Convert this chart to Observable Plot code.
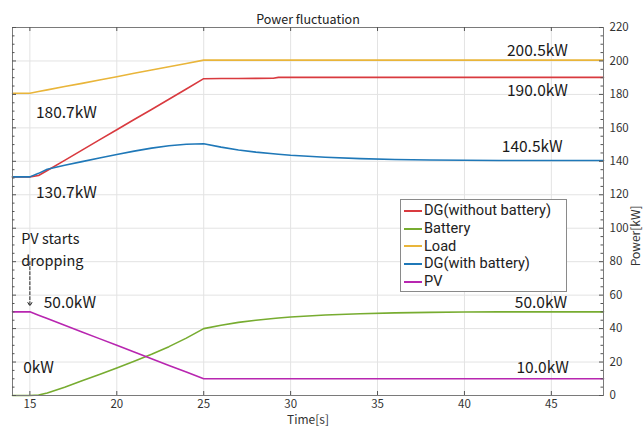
<!DOCTYPE html>
<html>
<head>
<meta charset="utf-8">
<script src="https://cdn.jsdelivr.net/npm/d3@7"></script>
<script src="https://cdn.jsdelivr.net/npm/@observablehq/plot@0.6"></script>
<style>
  html, body { margin: 0; padding: 0; background: #fff; }
  #wrap { position: relative; width: 643px; height: 429px; font-family: "Noto Sans CJK JP", "Noto Sans", sans-serif; }
  #legend { position: absolute; left: 400px; top: 199px; width: 167px; height: 93px; box-sizing: border-box;
            border: 1px solid #8a8a8a; background: #fff; padding: 2px 0 0 3px; font-family: Roboto, "Liberation Sans", sans-serif; }
  .row { display: flex; align-items: center; height: 17.7px; color: #222; white-space: nowrap; }
  .lab { display: inline-block; line-height: 17px; font-size: 14.6px; }
  .sw { width: 18px; height: 2px; margin-right: 2px; }
</style>
</head>
<body>
<div id="wrap"></div>
<script>
// ---- data ----
const time      = [14, 15, 15.5, 16, 17, 18, 19, 20, 21, 22, 23, 24, 25, 26, 27, 28, 29, 29.3, 30, 32, 34, 36, 38, 40, 42, 48];
const load      = [180.7, 180.7, 181.7, 182.7, 184.7, 186.6, 188.6, 190.6, 192.6, 194.6, 196.5, 198.5, 200.5, 200.5, 200.5, 200.5, 200.5, 200.5, 200.5, 200.5, 200.5, 200.5, 200.5, 200.5, 200.5, 200.5];
const dgNoBatt  = [130.7, 130.7, 131.5, 134.5, 140.6, 146.7, 152.8, 158.9, 165.0, 171.0, 177.1, 183.2, 189.4, 189.5, 189.5, 189.6, 189.7, 190.2, 190.2, 190.2, 190.2, 190.2, 190.2, 190.2, 190.2, 190.2];
const dgBatt    = [130.7, 130.7, 132.8, 135.2, 137.7, 139.8, 142.0, 144.1, 146.1, 147.9, 149.3, 150.2, 150.5, 148.5, 146.8, 145.5, 144.5, 144.2, 143.6, 142.4, 141.6, 141.1, 140.8, 140.6, 140.5, 140.5];
const battery   = [0, 0, 0.3, 1.5, 5.0, 8.8, 12.6, 16.5, 20.5, 24.7, 29.2, 34.3, 40.0, 42.0, 43.7, 45.0, 46.0, 46.3, 46.9, 48.1, 48.9, 49.4, 49.7, 49.9, 50.0, 50.0];
const pv        = [50, 50, 48, 46, 42, 38, 34, 30, 26, 22, 18, 14, 10, 10, 10, 10, 10, 10, 10, 10, 10, 10, 10, 10, 10, 10];

const seriesNames  = ["DG(without battery)", "Battery", "Load", "DG(with battery)", "PV"];
const seriesValues = [dgNoBatt, battery, load, dgBatt, pv];
const seriesColors = ["#d93a3f", "#77ac30", "#e9b53a", "#1f78b8", "#b826b0"];

const xTicks = [15, 20, 25, 30, 35, 40, 45];
const yTicks = [0, 20, 40, 60, 80, 100, 120, 140, 160, 180, 200, 220];
const yMinor = d3.range(0, 221, 5).filter(v => v % 20 !== 0);

const labels = [
  {text: "200.5kW", t: 44.2, p: 206},
  {text: "190.0kW", t: 44.2, p: 182},
  {text: "140.5kW", t: 43.9, p: 148.5},
  {text: "50.0kW",  t: 44.4, p: 55.5},
  {text: "10.0kW",  t: 44.5, p: 16.5},
  {text: "180.7kW", t: 17.1, p: 169},
  {text: "130.7kW", t: 17.1, p: 121},
  {text: "50.0kW",  t: 17.3, p: 55.5},
  {text: "0kW",     t: 15.5, p: 16.5}
];
const note = ["PV starts", "dropping"];

// ---- build ----
const rows = [];
seriesNames.forEach((name, i) => time.forEach((t, j) => rows.push({series: name, t, p: seriesValues[i][j]})));

const W = 643, H = 429, mL = 12, mR = 40, mT = 27, mB = 34;
const fw = W - mL - mR, fh = H - mT - mB;
const font = '"Noto Sans CJK JP", "Noto Sans", sans-serif';

const chart = Plot.plot({
  width: W, height: H,
  marginLeft: mL, marginRight: mR, marginTop: mT, marginBottom: mB,
  style: {fontFamily: font, background: "#fff", color: "#333"},
  x: {domain: [14, 48]},
  y: {domain: [0, 220]},
  color: {domain: seriesNames, range: seriesColors},
  marks: [
    Plot.gridX(xTicks, {stroke: "#e3e3e3", strokeOpacity: 1}),
    Plot.gridY(yTicks, {stroke: "#e3e3e3", strokeOpacity: 1}),
    Plot.line(rows, {x: "t", y: "p", z: "series", stroke: "series", strokeWidth: 1.6}),
    Plot.frame({stroke: "#7a7a7a", strokeWidth: 1}),
    // inward ticks
    Plot.ruleX(xTicks, {x: d => d, insetTop: fh - 4, stroke: "#555"}),
    Plot.ruleX(xTicks, {x: d => d, insetBottom: fh - 4, stroke: "#555"}),
    Plot.ruleY(yTicks, {y: d => d, insetRight: fw - 4, stroke: "#555"}),
    Plot.ruleY(yTicks, {y: d => d, insetLeft: fw - 4, stroke: "#555"}),
    Plot.ruleY(yMinor, {y: d => d, insetRight: fw - 2.5, stroke: "#555"}),
    Plot.ruleY(yMinor, {y: d => d, insetLeft: fw - 2.5, stroke: "#555"}),
    Plot.axisX({ticks: xTicks, tickSize: 0, tickPadding: 4, fontSize: 11.5, label: null}),
    Plot.axisY({anchor: "right", ticks: yTicks, tickSize: 0, tickPadding: 6, fontSize: 11.5, label: null}),
    // titles
    Plot.text(["Power fluctuation"], {frameAnchor: "top", dy: -12, fontSize: 12.5, fill: "#222"}),
    Plot.text(["Time[s]"], {frameAnchor: "bottom", dy: 28.5, fontSize: 12, fill: "#333"}),
    Plot.text(["Power[kW]"], {frameAnchor: "right", dx: 33, dy: -6, rotate: -90, fontSize: 12, fill: "#333"}),
    // annotations
    Plot.text(labels, {x: "t", y: "p", text: "text", fontSize: 15.5, fill: "#1a1a1a"}),
    Plot.text([note.join("\n")], {x: 14.5, y: 88, text: d => d, textAnchor: "start", lineHeight: 1.5, fontSize: 14.5, fill: "#1a1a1a"}),
    Plot.arrow([{t: 15, p1: 80, p2: 53.5}], {x1: "t", x2: "t", y1: "p1", y2: "p2", stroke: "#222", strokeWidth: 1, strokeDasharray: "3,2", headLength: 6, bend: 0})
  ]
});

const wrap = document.getElementById("wrap");
wrap.appendChild(chart);

const legend = document.createElement("div");
legend.id = "legend";
seriesNames.forEach((n, i) => {
  const r = document.createElement("div");
  r.className = "row";
  r.innerHTML = `<span class="sw" style="background:${seriesColors[i]}"></span><span class="lab">${n}</span>`;
  legend.appendChild(r);
});
wrap.appendChild(legend);
</script>
</body>
</html>
